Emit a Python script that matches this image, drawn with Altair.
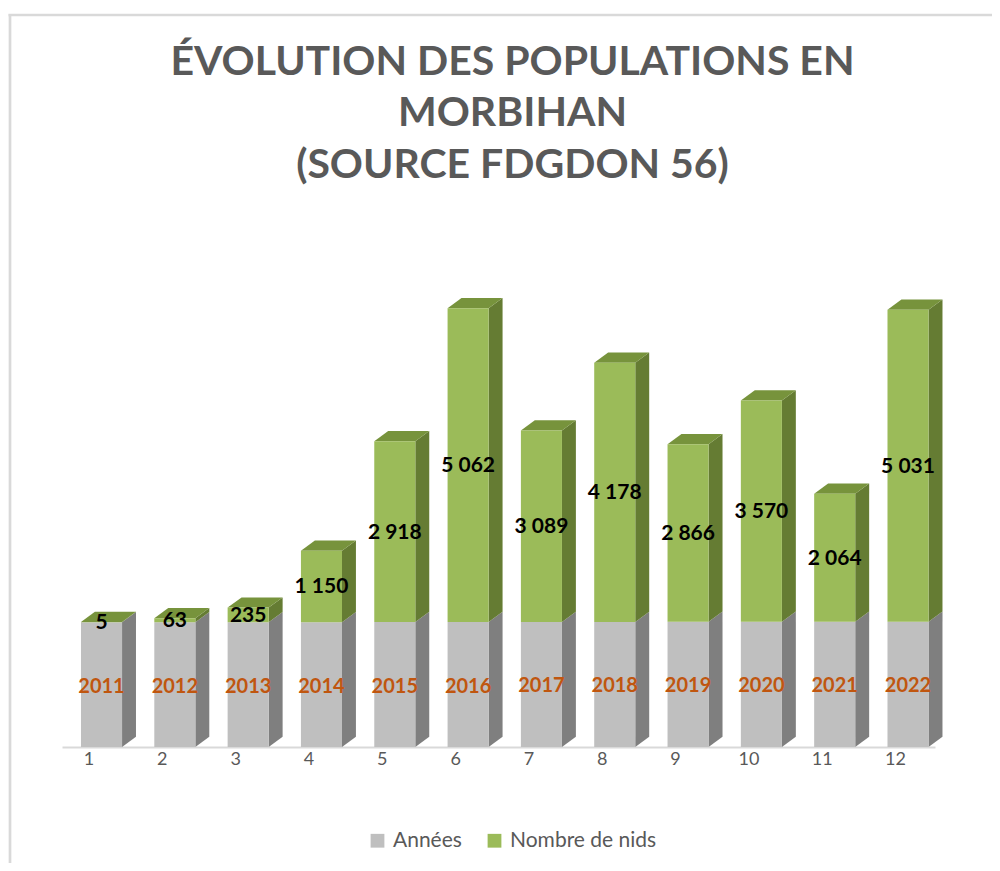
import altair as alt
import pandas as pd

# ---- data ----
positions = list(range(1, 13))
years = [2011, 2012, 2013, 2014, 2015, 2016, 2017, 2018, 2019, 2020, 2021, 2022]
nests = [5, 63, 235, 1150, 2918, 5062, 3089, 4178, 2866, 3570, 2064, 5031]
series = ["Années", "Nombre de nids"]
title_lines = ["ÉVOLUTION DES POPULATIONS EN", "MORBIHAN", "(SOURCE FDGDON 56)"]

# ---- styling ----
FRONT = ["#bfbfbf", "#9bbb59"]
SIDE = {"Années": "#7f7f7f", "Nombre de nids": "#657c33"}
TOP_GREEN = "#77933c"
HALF = 0.28      # half width of the front face (x units)
DX = 0.19        # depth offset (x units)
DY = 165         # depth offset (y units)
FONT = "Lato"

fronts, sides, tops, lab_y, lab_n = [], [], [], [], []
for p, yr, n in zip(positions, years, nests):
    segs = [("Années", 0, yr), ("Nombre de nids", yr, yr + n)]
    for s, y0, y1 in segs:
        fronts.append(dict(series=s, x0=p - HALF, x1=p + HALF, y0=y0, y1=y1))
        sid = f"{s}-{p}"
        x1 = p + HALF
        sides.append(dict(id=sid, series=s, x=x1, ya=y0, yb=y1))
        sides.append(dict(id=sid, series=s, x=x1 + DX, ya=y0 + DY, yb=y1 + DY))
    x0, x1, yt = p - HALF, p + HALF, yr + n
    tid = f"top-{p}"
    tops += [dict(id=tid, x=x0, ya=yt, yb=yt),
             dict(id=tid, x=x0 + DX, ya=yt, yb=yt + DY),
             dict(id=tid, x=x1, ya=yt, yb=yt + DY),
             dict(id=tid, x=x1 + DX, ya=yt + DY, yb=yt + DY)]
    lab_y.append(dict(x=p, y=yr / 2, t=str(yr)))
    lab_n.append(dict(x=p, y=yr + n / 2, t=f"{n:,}".replace(",", " ")))

df_front = pd.DataFrame(fronts)
df_side = pd.DataFrame(sides)
df_top = pd.DataFrame(tops)
df_ly = pd.DataFrame(lab_y)
df_ln = pd.DataFrame(lab_n)

W, H = 873, 496
xscale = alt.Scale(domain=[0.461, 12.368], nice=False, zero=False)
yscale = alt.Scale(domain=[0, 8000], nice=False)

xaxis = alt.Axis(values=positions, format="d", title=None, ticks=False, grid=False,
                 domainColor="#d9d9d9", domainWidth=2, labelFont=FONT, labelFontSize=18,
                 labelColor="#595959", labelOffset=-13, labelPadding=3)


def X(field):
    return alt.X(field, scale=xscale, axis=xaxis)


side_layers = []
for s in series:
    side_layers.append(
        alt.Chart(df_side[df_side.series == s]).mark_area(color=SIDE[s], interpolate="linear").encode(
            x=X("x:Q"),
            y=alt.Y("ya:Q", scale=yscale, axis=None, stack=None),
            y2="yb:Q",
            detail="id:N",
        )
    )

front = alt.Chart(df_front).mark_rect().encode(
    x=X("x0:Q"),
    x2="x1:Q",
    y=alt.Y("y0:Q", scale=yscale, axis=None),
    y2="y1:Q",
    color=alt.Color("series:N", scale=alt.Scale(domain=series, range=FRONT),
                    legend=alt.Legend(title=None, orient="none", direction="horizontal",
                                      legendX=305, legendY=579, symbolType="square",
                                      symbolSize=190, symbolStrokeWidth=0,
                                      labelFont=FONT, labelFontSize=21, labelColor="#595959",
                                      columnPadding=22, labelOffset=5)),
)

top = alt.Chart(df_top).mark_area(color=TOP_GREEN, interpolate="linear").encode(
    x=X("x:Q"),
    y=alt.Y("ya:Q", scale=yscale, axis=None, stack=None),
    y2="yb:Q",
    detail="id:N",
)

txt_years = alt.Chart(df_ly).mark_text(font=FONT, fontSize=20, fontWeight="bold",
                                       color="#c0560f", baseline="middle", dy=2).encode(
    x=X("x:Q"),
    y=alt.Y("y:Q", scale=yscale, axis=None),
    text="t:N",
)
txt_nests = alt.Chart(df_ln).mark_text(font=FONT, fontSize=21, fontWeight="bold",
                                       color="#000000", baseline="middle", dy=1).encode(
    x=X("x:Q"),
    y=alt.Y("y:Q", scale=yscale, axis=None),
    text="t:N",
)

dummy = pd.DataFrame({"a": [0]})
border_v = alt.Chart(dummy).mark_rule(color="#d9d9d9", strokeWidth=2.7).encode(
    x=alt.value(-52), y=alt.value(-237), y2=alt.value(700))
border_h = alt.Chart(dummy).mark_rule(color="#d9d9d9", strokeWidth=2.7).encode(
    y=alt.value(-236), x=alt.value(-53.5), x2=alt.value(1000))

chart = alt.layer(
    border_v, border_h,
    side_layers[0], front.transform_filter(alt.datum.series == "Années"),
    side_layers[1], top, front.transform_filter(alt.datum.series == "Nombre de nids"),
    txt_years, txt_nests,
).properties(
    width=W, height=H,
    padding={"left": 54, "top": 243, "right": 57, "bottom": 116},
    autosize=alt.AutoSizeParams(type="none"),
    title=alt.TitleParams(text=title_lines, font=FONT, fontSize=41, fontWeight="bold",
                          color="#595959", lineHeight=51.5, anchor="middle", frame="group",
                          baseline="bottom", offset=-215, dx=14),
).configure_view(stroke=None)

chart.save("out.html", embed_options={"renderer": "svg", "actions": False})
